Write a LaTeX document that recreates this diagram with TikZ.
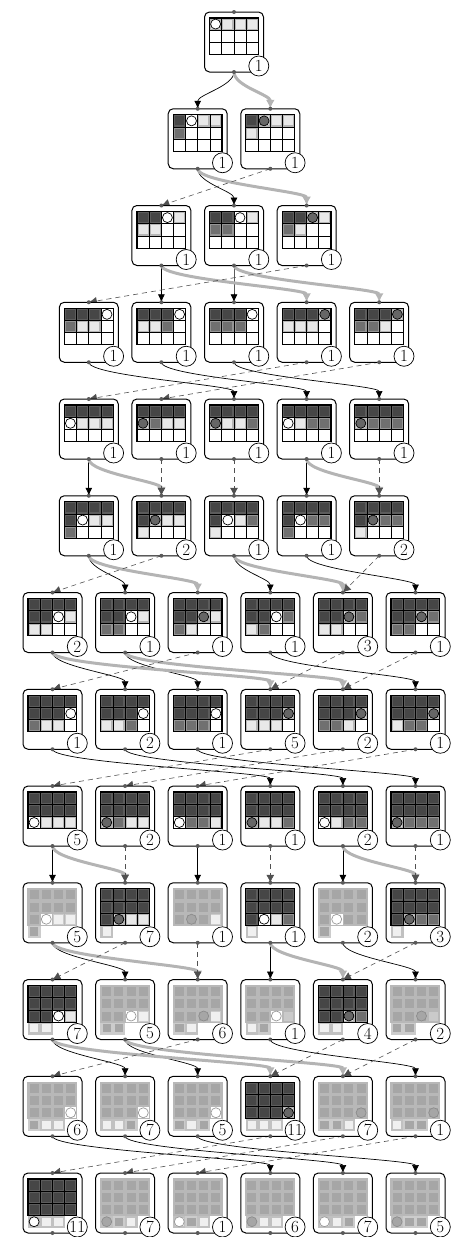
\documentclass[tikz,border=0pt]{standalone}
\usepackage{tikz}
\usetikzlibrary{arrows.meta,calc,backgrounds}
\definecolor{CellDark}{RGB}{70,70,70}
\definecolor{CellDarkRim}{RGB}{92,92,92}
\definecolor{CellMid}{RGB}{112,112,112}
\definecolor{CellMidRim}{RGB}{150,150,150}
\definecolor{CellLight}{RGB}{232,232,232}
\definecolor{CellLightRim}{RGB}{182,182,182}
\definecolor{FadeGray}{RGB}{166,166,166}
\definecolor{FadeRim}{RGB}{184,184,184}
\definecolor{FadePale}{RGB}{240,240,240}
\definecolor{FadePaleRim}{RGB}{204,204,204}
\definecolor{KnobGray}{RGB}{90,90,90}
\definecolor{WideGray}{RGB}{180,180,180}
\definecolor{BackGray}{RGB}{80,80,80}

% one state: box, 4x3 board (+ lower strip), marker, tally
\newcommand\tile[9]{%
  \node[card] (#1) at (#2,#3) {};
  \foreach \c [count=\i from 0] in {#5}{%
    \pgfmathtruncatemacro\cx{mod(\i,4)}%
    \pgfmathtruncatemacro\cy{div(\i,4)}%
    \path[cell\c] ($(#1.north west)+(5.8+12.2*\cx,6.8+12.2*\cy)$) rectangle +(10.6,10.6);
  }
  \foreach \k in {1,2,3}
    \draw[rule#4] ($(#1.north west)+(5+12.2*\k,6)$) -- +(0,36.6);
  \foreach \k in {1,2}
    \draw[rule#4] ($(#1.north west)+(5,6+12.2*\k)$) -- +(48.8,0);
  \draw[rule#4,line width=1.2] ($(#1.north west)+(5,6)$) rectangle +(48.8,36.6);
  \path[mark#8] ($(#1.north west)+(11.1+12.2*#6,12.1+12.2*#7)$) circle (5);
  \node[tally] (#1k) at ($(#1.south east)+(-4.7,-6)$) {#9};
  \fill[knob] (#1.north) circle (2) (#1.south) circle (2);
}

\begin{document}
\begin{tikzpicture}[x=1pt,y=-1pt,
    card/.style={draw,fill=white,rounded corners=5,line width=1,
                 minimum width=59,minimum height=60,inner sep=0,outer sep=0},
    tally/.style={draw,circle,fill=white,line width=0.7,minimum size=20,
                  inner sep=0,font=\fontsize{17}{17}\selectfont},
    cellD/.style={fill=CellDark,draw=CellDarkRim,line width=1.6},
    cellM/.style={fill=CellMid,draw=CellMidRim,line width=1.6},
    cellL/.style={fill=CellLight,draw=CellLightRim,line width=1.6},
    cellW/.style={fill=white},
    cellF/.style={fill=FadeGray,draw=FadeRim,line width=1.6},
    cellP/.style={fill=FadePale,draw=FadePaleRim,line width=1.6},
    cellQ/.style={fill=FadeGray!60,draw=FadeRim,line width=1.6},
    cella/.style={fill=FadePale,draw=FadeGray!70,line width=2.2},
    cellb/.style={fill=FadeGray,draw=FadePaleRim,line width=2.2},
    cellN/.style={},
    rulen/.style={draw=black,line width=0.6},
    rulef/.style={draw=FadeRim,line width=0.6},
    marko/.style={fill=white,draw=black,line width=0.7},
    markx/.style={fill=black!60,draw=black,line width=0.7},
    markfo/.style={fill=white,draw=black!40,line width=0.7},
    markfx/.style={fill=FadeGray,draw=black!45,line width=0.7},
    knob/.style={fill=KnobGray},
    fwdarr/.style={-{Latex[length=8,width=7]},black,line width=0.7},
    widearr/.style={-{Latex[length=9,width=9]},WideGray,line width=3},
    backarr/.style={-{Latex[length=8,width=8]},BackGray,line width=0.6,
                    dash pattern=on 5pt off 4pt}
  ]
  \useasboundingbox (0,0) rectangle (450,1237);

  % row 1
  \tile{n1a}{234}{42}{n}{L,L,L,L,W,W,W,W,W,W,W,W}{0}{0}{o}{1}
  % row 2
  \tile{n2a}{197.7}{138.75}{n}{D,W,L,L,M,W,W,W,W,W,W,W}{1}{0}{o}{1}
  \tile{n2b}{270.3}{138.75}{n}{D,L,L,L,L,W,W,W,W,W,W,W}{1}{0}{x}{1}
  % row 3
  \tile{n3a}{161.4}{235.5}{n}{D,D,W,L,L,L,W,W,W,W,W,W}{2}{0}{o}{1}
  \tile{n3b}{234}{235.5}{n}{D,D,W,L,M,M,W,W,W,W,W,W}{2}{0}{o}{1}
  \tile{n3c}{306.6}{235.5}{n}{D,D,L,L,M,L,W,W,W,W,W,W}{2}{0}{x}{1}
  % row 4
  \tile{n4a}{88.8}{332.25}{n}{D,D,D,W,M,L,L,W,W,W,W,W}{3}{0}{o}{1}
  \tile{n4b}{161.4}{332.25}{n}{D,D,D,W,L,L,M,W,W,W,W,W}{3}{0}{o}{1}
  \tile{n4c}{234}{332.25}{n}{D,D,D,W,M,M,M,W,W,W,W,W}{3}{0}{o}{1}
  \tile{n4d}{306.6}{332.25}{n}{D,D,D,L,L,L,L,W,W,W,W,W}{3}{0}{x}{1}
  \tile{n4e}{379.2}{332.25}{n}{D,D,D,L,M,M,L,W,W,W,W,W}{3}{0}{x}{1}
  % row 5
  \tile{n5a}{88.8}{429}{n}{D,D,D,D,W,L,L,L,W,W,W,W}{0}{1}{o}{1}
  \tile{n5b}{161.4}{429}{n}{D,D,D,D,L,M,L,L,W,W,W,W}{0}{1}{x}{1}
  \tile{n5c}{234}{429}{n}{D,D,D,D,L,L,L,M,W,W,W,W}{0}{1}{x}{1}
  \tile{n5d}{306.6}{429}{n}{D,D,D,D,W,L,M,M,W,W,W,W}{0}{1}{o}{1}
  \tile{n5e}{379.2}{429}{n}{D,D,D,D,L,M,M,M,W,W,W,W}{0}{1}{x}{1}
  % row 6
  \tile{n6a}{88.8}{525.75}{n}{D,D,D,D,D,W,L,L,M,W,W,W}{1}{1}{o}{1}
  \tile{n6b}{161.4}{525.75}{n}{D,D,D,D,D,L,L,L,L,W,W,W}{1}{1}{x}{2}
  \tile{n6c}{234}{525.75}{n}{D,D,D,D,D,W,L,M,L,W,W,W}{1}{1}{o}{1}
  \tile{n6d}{306.6}{525.75}{n}{D,D,D,D,D,W,M,M,M,W,W,W}{1}{1}{o}{1}
  \tile{n6e}{379.2}{525.75}{n}{D,D,D,D,D,L,M,M,L,W,W,W}{1}{1}{x}{2}
  % row 7
  \tile{n7a}{52.5}{622.5}{n}{D,D,D,D,D,D,W,L,L,L,W,W}{2}{1}{o}{2}
  \tile{n7b}{125.1}{622.5}{n}{D,D,D,D,D,D,W,L,M,M,W,W}{2}{1}{o}{1}
  \tile{n7c}{197.7}{622.5}{n}{D,D,D,D,D,D,L,L,M,L,W,W}{2}{1}{x}{1}
  \tile{n7d}{270.3}{622.5}{n}{D,D,D,D,D,D,W,M,L,M,W,W}{2}{1}{o}{1}
  \tile{n7e}{342.9}{622.5}{n}{D,D,D,D,D,D,L,M,L,L,W,W}{2}{1}{x}{3}
  \tile{n7f}{415.5}{622.5}{n}{D,D,D,D,D,D,L,M,M,M,W,W}{2}{1}{x}{1}
  % row 8
  \tile{n8a}{52.5}{719.25}{n}{D,D,D,D,D,D,D,W,M,L,L,W}{3}{1}{o}{1}
  \tile{n8b}{125.1}{719.25}{n}{D,D,D,D,D,D,D,W,L,L,M,W}{3}{1}{o}{2}
  \tile{n8c}{197.7}{719.25}{n}{D,D,D,D,D,D,D,W,M,M,M,W}{3}{1}{o}{1}
  \tile{n8d}{270.3}{719.25}{n}{D,D,D,D,D,D,D,L,L,L,L,W}{3}{1}{x}{5}
  \tile{n8e}{342.9}{719.25}{n}{D,D,D,D,D,D,D,L,M,M,L,W}{3}{1}{x}{2}
  \tile{n8f}{415.5}{719.25}{n}{D,D,D,D,D,D,D,L,L,M,M,W}{3}{1}{x}{1}
  % row 9
  \tile{n9a}{52.5}{816}{n}{D,D,D,D,D,D,D,D,W,L,L,L}{0}{2}{o}{5}
  \tile{n9b}{125.1}{816}{n}{D,D,D,D,D,D,D,D,L,M,L,L}{0}{2}{x}{2}
  \tile{n9c}{197.7}{816}{n}{D,D,D,D,D,D,D,D,W,M,M,L}{0}{2}{o}{1}
  \tile{n9d}{270.3}{816}{n}{D,D,D,D,D,D,D,D,L,L,L,M}{0}{2}{x}{1}
  \tile{n9e}{342.9}{816}{n}{D,D,D,D,D,D,D,D,W,L,M,M}{0}{2}{o}{2}
  \tile{n9f}{415.5}{816}{n}{D,D,D,D,D,D,D,D,L,M,M,M}{0}{2}{x}{1}
  % row 10
  \tile{n10a}{52.5}{912.75}{f}{F,F,F,F,F,F,F,F,F,W,P,P,b,N,N,N}{1}{2}{fo}{5}
  \tile{n10b}{125.1}{912.75}{n}{D,D,D,D,D,D,D,D,D,L,L,L,a,N,N,N}{1}{2}{x}{7}
  \tile{n10c}{197.7}{912.75}{f}{F,F,F,F,F,F,F,F,F,F,F,P,N,N,N,N}{1}{2}{fx}{1}
  \tile{n10d}{270.3}{912.75}{n}{D,D,D,D,D,D,D,D,D,W,L,M,a,N,N,N}{1}{2}{o}{1}
  \tile{n10e}{342.9}{912.75}{f}{F,F,F,F,F,F,F,F,F,W,F,F,b,N,N,N}{1}{2}{fo}{2}
  \tile{n10f}{415.5}{912.75}{n}{D,D,D,D,D,D,D,D,D,L,M,M,a,N,N,N}{1}{2}{x}{3}
  % row 11
  \tile{n11a}{52.5}{1009.5}{n}{D,D,D,D,D,D,D,D,D,D,W,L,a,a,N,N}{2}{2}{o}{7}
  \tile{n11b}{125.1}{1009.5}{f}{F,F,F,F,F,F,F,F,F,F,W,P,b,b,N,N}{2}{2}{fo}{5}
  \tile{n11c}{197.7}{1009.5}{f}{F,F,F,F,F,F,F,F,F,F,F,P,b,a,N,N}{2}{2}{fx}{6}
  \tile{n11d}{270.3}{1009.5}{f}{F,F,F,F,F,F,F,F,F,F,W,Q,a,b,N,N}{2}{2}{fo}{1}
  \tile{n11e}{342.9}{1009.5}{n}{D,D,D,D,D,D,D,D,D,D,L,M,a,a,N,N}{2}{2}{x}{4}
  \tile{n11f}{415.5}{1009.5}{f}{F,F,F,F,F,F,F,F,F,F,F,Q,b,b,N,N}{2}{2}{fx}{2}
  % row 12
  \tile{n12a}{52.5}{1106.25}{f}{F,F,F,F,F,F,F,F,F,F,F,W,b,a,a,N}{3}{2}{fo}{6}
  \tile{n12b}{125.1}{1106.25}{f}{F,F,F,F,F,F,F,F,F,F,F,W,a,a,b,N}{3}{2}{fo}{7}
  \tile{n12c}{197.7}{1106.25}{f}{F,F,F,F,F,F,F,F,F,F,F,W,b,a,b,N}{3}{2}{fo}{5}
  \tile{n12d}{270.3}{1106.25}{n}{D,D,D,D,D,D,D,D,D,D,D,L,a,a,a,N}{3}{2}{x}{11}
  \tile{n12e}{342.9}{1106.25}{f}{F,F,F,F,F,F,F,F,F,F,F,F,b,b,a,N}{3}{2}{fx}{7}
  \tile{n12f}{415.5}{1106.25}{f}{F,F,F,F,F,F,F,F,F,F,F,F,a,b,b,N}{3}{2}{fx}{1}
  % row 13
  \tile{n13a}{52.5}{1203}{n}{D,D,D,D,D,D,D,D,D,D,D,D,a,a,a,N}{0}{3}{o}{11}
  \tile{n13b}{125.1}{1203}{f}{F,F,F,F,F,F,F,F,F,F,F,F,a,b,a,N}{0}{3}{fx}{7}
  \tile{n13c}{197.7}{1203}{f}{F,F,F,F,F,F,F,F,F,F,F,F,a,b,a,N}{0}{3}{fo}{1}
  \tile{n13d}{270.3}{1203}{f}{F,F,F,F,F,F,F,F,F,F,F,F,a,a,a,N}{0}{3}{fx}{6}
  \tile{n13e}{342.9}{1203}{f}{F,F,F,F,F,F,F,F,F,F,F,F,a,a,b,N}{0}{3}{fo}{7}
  \tile{n13f}{415.5}{1203}{f}{F,F,F,F,F,F,F,F,F,F,F,F,a,b,b,N}{0}{3}{fx}{5}

  \begin{scope}[on background layer]
    \foreach \s/\t in {n1a/n2a, n2a/n3b, n3a/n4b, n3b/n4c,
        n4a/n5c, n4b/n5d, n4c/n5e, n5a/n6a, n5d/n6d,
        n6a/n7b, n6c/n7d, n6d/n7f, n7a/n8b, n7b/n8c, n7d/n8f,
        n8a/n9d, n8b/n9e, n8c/n9f, n9a/n10a, n9c/n10c, n9e/n10e,
        n10a/n11b, n10d/n11d, n10e/n11f, n11a/n12b, n11b/n12c, n11d/n12f,
        n12a/n13d, n12b/n13e, n12c/n13f}
      \draw[fwdarr] (\s.south) .. controls +(0,14) and +(0,-14) .. (\t.north);
    \foreach \s/\t in {n1a/n2b, n2a/n3c, n3a/n4d, n3b/n4e, n5a/n6b, n5d/n6e,
        n6a/n7c, n6c/n7e, n7a/n8d, n7b/n8e, n9a/n10b, n9e/n10f,
        n10a/n11c, n10d/n11e, n11a/n12d, n11b/n12e}
      \draw[widearr] (\s.south) .. controls +(0,14) and +(0,-14) .. (\t.north);
    \foreach \s/\t in {n2b/n3a, n3c/n4a, n4d/n5a, n4e/n5b, n5b/n6b, n5c/n6c,
        n5e/n6e, n6b/n7a, n6e/n7e, n7c/n8a, n7e/n8d, n7f/n8e,
        n8d/n9a, n8e/n9b, n8f/n9c, n9b/n10b, n9d/n10d, n9f/n10f,
        n10b/n11a, n10c/n11c, n10f/n11e, n11c/n12a, n11e/n12d, n11f/n12e,
        n12d/n13a, n12e/n13b, n12f/n13c}
      \draw[backarr] (\s.south) -- (\t.north);
  \end{scope}
\end{tikzpicture}
\end{document}
